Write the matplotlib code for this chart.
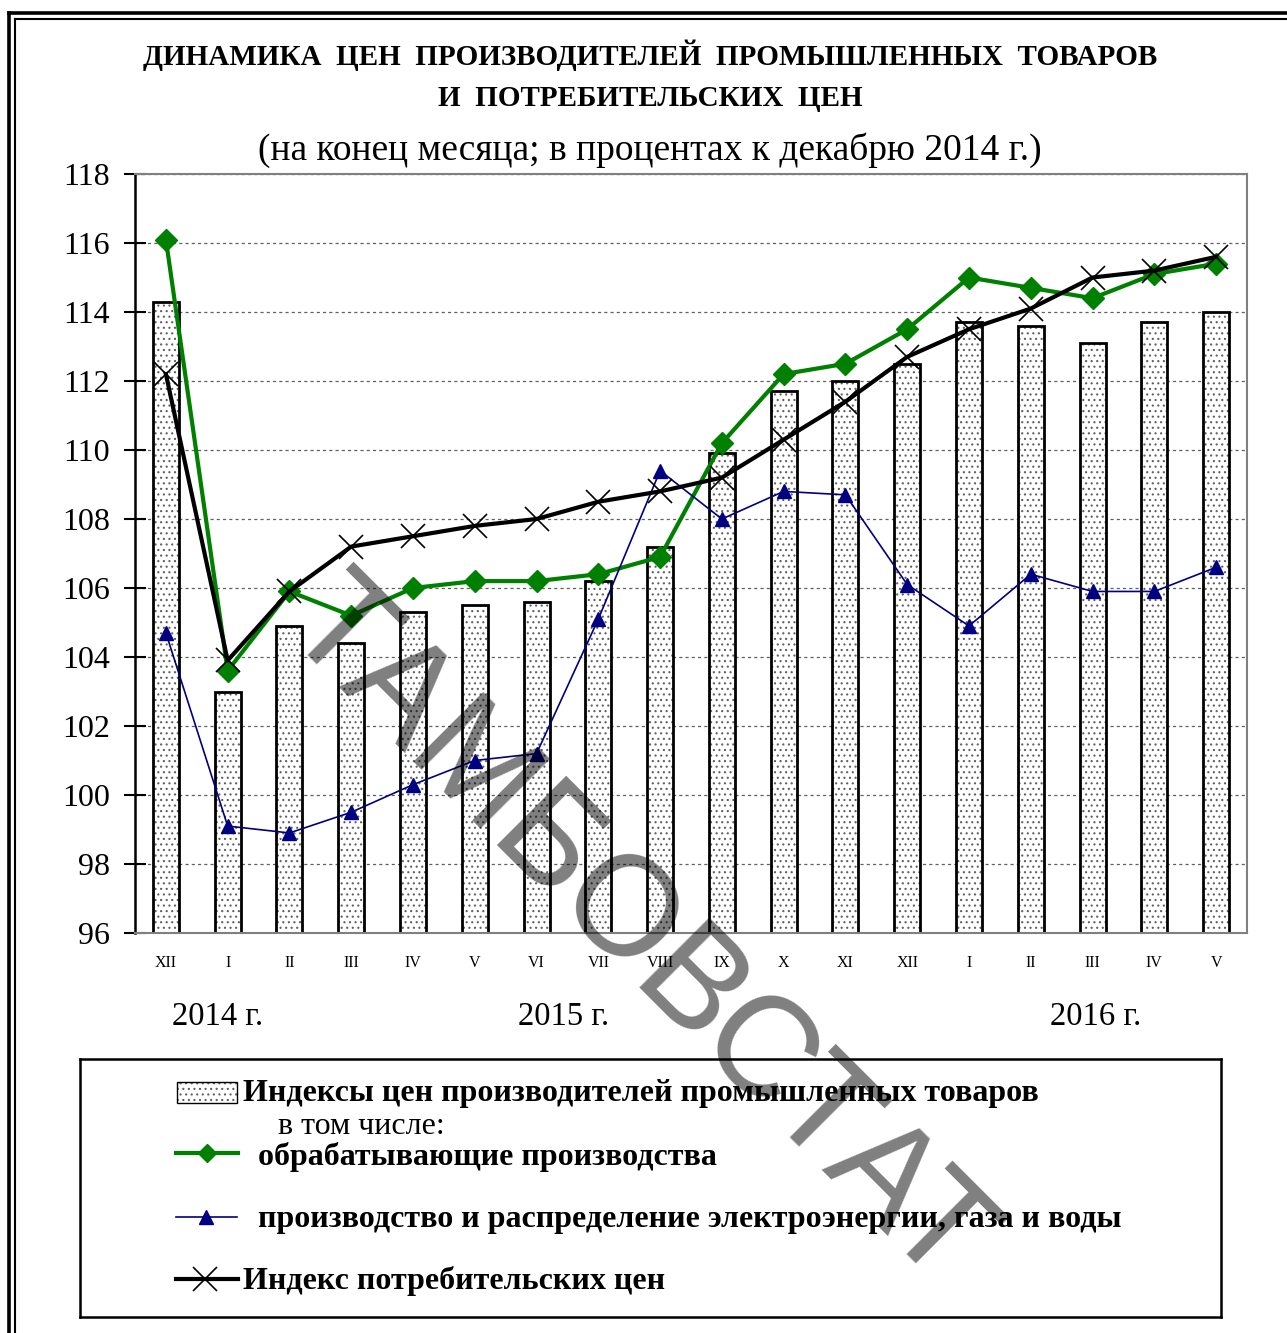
import matplotlib
matplotlib.use('Agg')
import matplotlib.pyplot as plt
from matplotlib.lines import Line2D
from matplotlib.patches import Rectangle

# месяцы: декабрь 2014 г. - май 2016 г.
months = ['XII', 'I', 'II', 'III', 'IV', 'V', 'VI', 'VII', 'VIII', 'IX', 'X', 'XI', 'XII',
          'I', 'II', 'III', 'IV', 'V']
producer = [114.3, 103.0, 104.9, 104.4, 105.3, 105.5, 105.6, 106.2, 107.2, 109.9,
            111.7, 112.0, 112.5, 113.7, 113.6, 113.1, 113.7, 114.0]
manufacturing = [116.1, 103.6, 105.9, 105.2, 106.0, 106.2, 106.2, 106.4, 106.9, 110.2,
                 112.2, 112.5, 113.5, 115.0, 114.7, 114.4, 115.1, 115.4]
utilities = [104.7, 99.1, 98.9, 99.5, 100.3, 101.0, 101.2, 105.1, 109.4, 108.0,
             108.8, 108.7, 106.1, 104.9, 106.4, 105.9, 105.9, 106.6]
consumer = [112.2, 103.9, 105.9, 107.2, 107.5, 107.8, 108.0, 108.5, 108.8, 109.2,
            110.3, 111.4, 112.7, 113.5, 114.1, 115.0, 115.2, 115.6]
years = ['2014 г.', '2015 г.', '2016 г.']

plt.rcParams['font.family'] = ['Liberation Serif', 'DejaVu Serif']
plt.rcParams['hatch.linewidth'] = 0.8

W, H = 1287, 1333
GREEN = '#008000'
NAVY = '#000080'


def fbox(x0, y0, x1, y1):
    return [x0 / W, 1 - y1 / H, (x1 - x0) / W, (y1 - y0) / H]


fig = plt.figure(figsize=(W / 100, H / 100), dpi=100)

# рамка
for xx, yy, lw in [(9, 13, 2.6), (14.5, 19, 1.5)]:
    fig.add_artist(Line2D([xx / W, xx / W], [0, 1 - yy / H], transform=fig.transFigure,
                          color='black', lw=lw))
    fig.add_artist(Line2D([xx / W, 1], [1 - yy / H, 1 - yy / H], transform=fig.transFigure,
                          color='black', lw=lw))

fig.text(0.505, 1 - 55 / H, 'ДИНАМИКА  ЦЕН  ПРОИЗВОДИТЕЛЕЙ  ПРОМЫШЛЕННЫХ  ТОВАРОВ',
         ha='center', va='center', fontsize=21, fontweight='bold')
fig.text(0.505, 1 - 98 / H, 'И  ПОТРЕБИТЕЛЬСКИХ  ЦЕН',
         ha='center', va='center', fontsize=21, fontweight='bold')
fig.text(0.505, 1 - 150 / H, '(на конец месяца; в процентах к декабрю 2014 г.)',
         ha='center', va='center', fontsize=27)

ax = fig.add_axes(fbox(135, 174, 1247, 933))
x = list(range(len(months)))

ax.bar(x, producer, width=0.42, color='white', edgecolor='#606060', hatch='...',
       linewidth=0, zorder=2)
ax.bar(x, producer, width=0.42, fill=False, edgecolor='black', linewidth=2, zorder=2)

ax.plot(x, manufacturing, color=GREEN, lw=3, marker='D', ms=11, zorder=3)
ax.plot(x, utilities, color=NAVY, lw=1.2, marker='^', ms=10, zorder=4)
ax.plot(x, consumer, color='black', lw=3, marker='x', ms=17, mew=1.2, zorder=5)

ax.set_xlim(-0.5, len(months) - 0.5)
ax.set_ylim(96, 118)
ax.set_yticks(range(96, 119, 2))
ax.yaxis.grid(True, color='#606060', linestyle=(0, (2.5, 2.5)), linewidth=0.9)
ax.set_axisbelow(True)
ax.set_xticks(x)
ax.set_xticklabels(months, fontsize=11.5)
ax.tick_params(axis='x', length=0, pad=16)
ax.tick_params(axis='y', direction='inout', length=16, width=1.5, labelsize=23, pad=10)
for side in ['top', 'right', 'bottom']:
    ax.spines[side].set_color('#808080')
    ax.spines[side].set_linewidth(1.5)
ax.spines['left'].set_linewidth(1.8)

for label, pos in zip(years, [0.83, 6.43, 15.05]):
    ax.text(pos, -0.111, label, transform=ax.get_xaxis_transform(),
            ha='center', va='center', fontsize=23.5)

# легенда
lax = fig.add_axes(fbox(80, 1059, 1221, 1317))
lax.set_xlim(80, 1221)
lax.set_ylim(1317, 1059)
lax.set_xticks([])
lax.set_yticks([])
for s in lax.spines.values():
    s.set_linewidth(1.8)

lax.add_patch(Rectangle((177, 1082), 60, 21, facecolor='white', edgecolor='#606060',
                        hatch='...', lw=0))
lax.add_patch(Rectangle((177, 1082), 60, 21, fill=False, edgecolor='black', lw=1))
lax.text(243, 1093, 'Индексы цен производителей промышленных товаров',
         fontsize=23, fontweight='bold', va='center')
lax.text(278, 1126, 'в том числе:', fontsize=23, va='center')

lax.plot([176, 238], [1153, 1153], color=GREEN, lw=3)
lax.plot([207], [1153], marker='D', ms=9, color=GREEN)
lax.text(258, 1157, 'обрабатывающие производства', fontsize=23, fontweight='bold',
         va='center')

lax.plot([176, 237], [1217, 1217], color=NAVY, lw=1.2)
lax.plot([206], [1217], marker='^', ms=10, color=NAVY)
lax.text(258, 1219, 'производство и распределение электроэнергии, газа и воды',
         fontsize=23, fontweight='bold', va='center')

lax.plot([176, 238], [1279, 1279], color='black', lw=3)
lax.plot([205], [1279], marker='x', ms=17, mew=1.2, color='black')
lax.text(243, 1281, 'Индекс потребительских цен', fontsize=23, fontweight='bold',
         va='center')

fig.text(610 / W, 1 - 962 / H, 'ТАМБОВСТАТ', family='Liberation Sans', fontsize=102,
         rotation=-45, rotation_mode='anchor', ha='center', va='baseline',
         color='black', alpha=0.5, zorder=10)

fig.savefig('out.png', dpi=100)
